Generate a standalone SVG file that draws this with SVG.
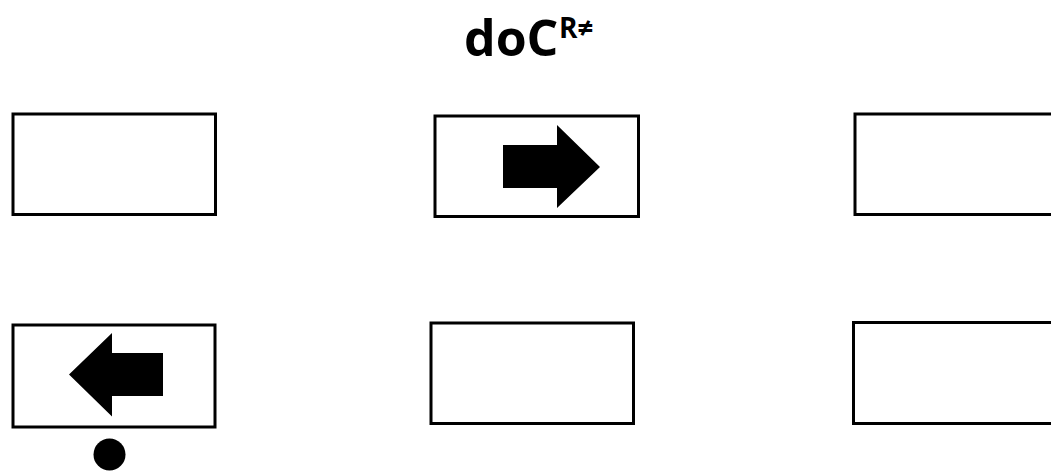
<svg xmlns="http://www.w3.org/2000/svg" width="1051" height="471" viewBox="0 0 1051 471">
<style>
.box{fill:#fff;stroke:#000;stroke-width:3}
.title{font-family:"Open Sans","Liberation Sans",sans-serif;font-weight:bold;fill:#000}
.glyph{fill:#000}
</style>
<rect width="1051" height="471" fill="#fff"/>
<g id="title">
<text class="title" x="464" y="56" font-size="50">doC</text>
<text class="title" x="559" y="38" font-size="28" font-weight="600">R≠</text>
</g>
<g id="node-top-left"><rect class="box" x="13" y="114" width="202.5" height="100.5"/></g>
<g id="node-top-middle">
<rect class="box" x="435" y="116" width="203.5" height="100.5"/>
<polygon class="glyph" points="503,145 557,145 557,125 600,167 557,208 557,188 503,188"/>
</g>
<g id="node-top-right"><rect class="box" x="855" y="114" width="210" height="100.5"/></g>
<g id="node-bottom-left">
<rect class="box" x="13" y="325" width="202" height="102"/>
<polygon class="glyph" points="163,353 112,353 112,333 69,374.5 112,416.5 112,396 163,396"/>
<circle class="glyph" cx="109.5" cy="454.5" r="16"/>
</g>
<g id="node-bottom-middle"><rect class="box" x="431" y="323" width="202.5" height="100.5"/></g>
<g id="node-bottom-right"><rect class="box" x="853.5" y="322.5" width="210" height="101"/></g>
<g id="connectors"></g>
</svg>
